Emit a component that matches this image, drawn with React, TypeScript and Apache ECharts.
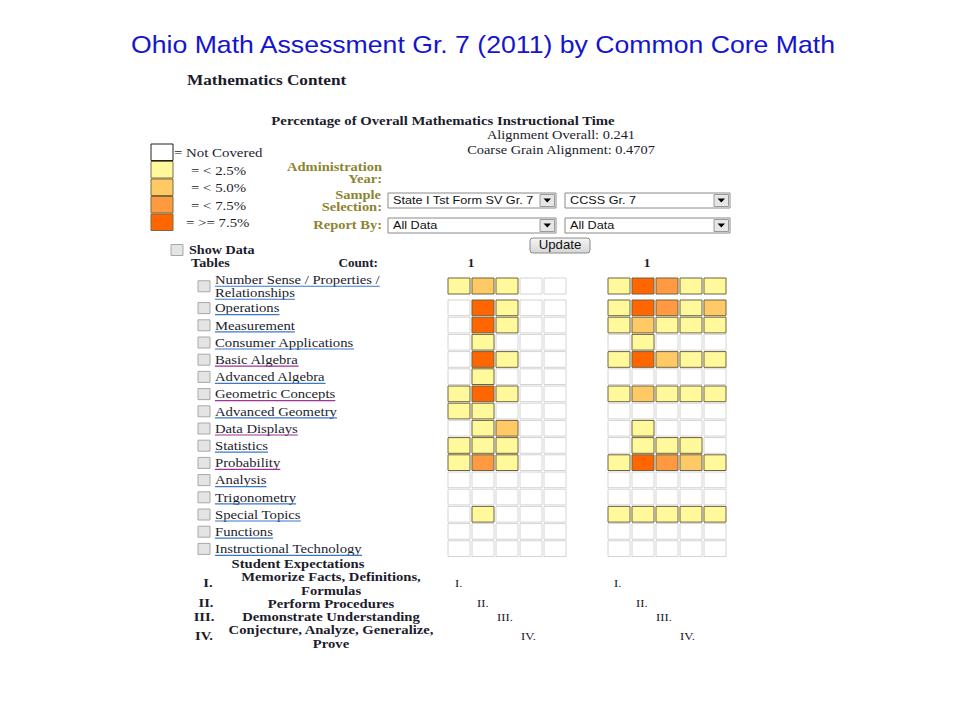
import React, { useEffect, useRef } from "react";
import * as echarts from "echarts";

// ---------- data ----------
const topics = [
  "Number Sense / Properties / Relationships",
  "Operations",
  "Measurement",
  "Consumer Applications",
  "Basic Algebra",
  "Advanced Algebra",
  "Geometric Concepts",
  "Advanced Geometry",
  "Data Displays",
  "Statistics",
  "Probability",
  "Analysis",
  "Trigonometry",
  "Special Topics",
  "Functions",
  "Instructional Technology",
];
const visitedTopics = ["Basic Algebra", "Geometric Concepts", "Data Displays", "Probability"];
const expectationCols = ["I", "II", "III", "IV", "V"];

// coverage level per topic (0 = not covered, 1 = <2.5%, 2 = <5.0%, 3 = <7.5%, 4 = >=7.5%)
const stateLevels = [
  [1, 2, 1, 0, 0],
  [0, 4, 1, 0, 0],
  [0, 4, 1, 0, 0],
  [0, 1, 0, 0, 0],
  [0, 4, 1, 0, 0],
  [0, 1, 0, 0, 0],
  [1, 4, 1, 0, 0],
  [1, 1, 0, 0, 0],
  [0, 1, 2, 0, 0],
  [1, 1, 1, 0, 0],
  [1, 3, 1, 0, 0],
  [0, 0, 0, 0, 0],
  [0, 0, 0, 0, 0],
  [0, 1, 0, 0, 0],
  [0, 0, 0, 0, 0],
  [0, 0, 0, 0, 0],
];
const ccssLevels = [
  [1, 4, 3, 1, 1],
  [1, 4, 3, 1, 2],
  [1, 2, 1, 1, 1],
  [0, 1, 0, 0, 0],
  [1, 4, 2, 1, 1],
  [0, 0, 0, 0, 0],
  [1, 2, 1, 1, 1],
  [0, 0, 0, 0, 0],
  [0, 1, 0, 0, 0],
  [0, 1, 1, 1, 0],
  [1, 4, 3, 2, 1],
  [0, 0, 0, 0, 0],
  [0, 0, 0, 0, 0],
  [1, 1, 1, 1, 1],
  [0, 0, 0, 0, 0],
  [0, 0, 0, 0, 0],
];
const legendLabels = ["= Not Covered", "= < 2.5%", "= < 5.0%", "= < 7.5%", "= >= 7.5%"];
const counts = ["1", "1"];
const romanLabels = ["I.", "II.", "III.", "IV."];
const expectationTexts = [
  ["Memorize Facts, Definitions,", "Formulas"],
  ["Perform Procedures"],
  ["Demonstrate Understanding"],
  ["Conjecture, Analyze, Generalize,", "Prove"],
];
const alignmentOverall = 0.241;
const coarseGrainAlignment = 0.4707;

// ---------- styles ----------
const levelColors = ["#ffffff", "#fff99c", "#ffc966", "#ff9a40", "#ff6600"];
const SERIF = '"Liberation Serif", "Times New Roman", serif';
const SANS = '"Liberation Sans", Arial, sans-serif';
const TEXT = "#1c1c2c";
const OLIVE = "#8c8530";

// grid layout
const G_TOP_A = 277.5;
const G_H_A = 17.5;
const G_TOP_B = 299.5;
const ROW_B = 17.2;
const G_H_B = ROW_B * 15;
const LEFT_X = 447;
const RIGHT_X = 607;
const G_W = 120;

function rowCenter(i: number) {
  return i === 0 ? G_TOP_A + G_H_A / 2 : G_TOP_B + (i - 0.5) * ROW_B;
}

function measure(text: string, font: string) {
  const c = document.createElement("canvas").getContext("2d");
  if (!c) return text.length * 6;
  c.font = font;
  return c.measureText(text).width;
}

function renderCell(params: any, api: any) {
  const lvl = api.value(2);
  const c = api.coord([api.value(0), api.value(1)]);
  const s = api.size([1, 1]);
  return {
    type: "rect",
    shape: { x: c[0] - s[0] / 2 + 1, y: c[1] - s[1] / 2 + 0.5, width: s[0] - 2, height: s[1] - 1.5 },
    style: { fill: levelColors[lvl], stroke: lvl ? "#6f6440" : "#d4d4d4", lineWidth: 1 },
  };
}

function txt(text: string, x: number, y: number, font: string, fill = TEXT, align = "left", sx = 1.15) {
  return {
    type: "text",
    x,
    y,
    scaleX: sx,
    silent: true,
    style: { text, font, fill, textAlign: align, textVerticalAlign: "middle" },
  };
}

function checkbox(x: number, y: number) {
  return { type: "rect", x, y: y - 5.5, shape: { width: 12, height: 11 }, style: { fill: "#e4e4e4", stroke: "#a8a8a8", lineWidth: 1 } };
}

function dropdown(x: number, y: number, w: number, label: string) {
  return [
    { type: "rect", shape: { x, y, width: w, height: 15 }, style: { fill: "#ffffff", stroke: "#8a8a8a", lineWidth: 1 } },
    txt(label, x + 5, y + 7.5, `11px ${SANS}`, "#111", "left", 1.15),
    { type: "rect", shape: { x: x + w - 16, y: y + 1.5, width: 14.5, height: 12 }, style: { fill: "#e6e6e6", stroke: "#9a9a9a", lineWidth: 1 } },
    { type: "polygon", shape: { points: [[x + w - 12.5, y + 5.5], [x + w - 5, y + 5.5], [x + w - 8.75, y + 9.5]] }, style: { fill: "#000" } },
  ];
}

export default function App() {
  const ref = useRef<HTMLDivElement>(null);
  useEffect(() => {
    if (!ref.current) return;
    const chart = echarts.init(ref.current, null, { renderer: "svg" });

    const grids: any[] = [];
    const xAxes: any[] = [];
    const yAxes: any[] = [];
    const series: any[] = [];
    [
      { left: LEFT_X, levels: stateLevels, name: "State I Tst Form SV Gr. 7" },
      { left: RIGHT_X, levels: ccssLevels, name: "CCSS Gr. 7" },
    ].forEach((side) => {
      [
        { top: G_TOP_A, height: G_H_A, rows: [0] },
        { top: G_TOP_B, height: G_H_B, rows: topics.slice(1).map((_, i) => i + 1) },
      ].forEach((part) => {
        const gi = grids.length;
        grids.push({ left: side.left, top: part.top, width: G_W, height: part.height });
        xAxes.push({ type: "category", gridIndex: gi, data: expectationCols, show: false });
        yAxes.push({ type: "category", gridIndex: gi, data: part.rows.map((r) => topics[r]), inverse: true, show: false });
        const data: number[][] = [];
        part.rows.forEach((r, ri) => side.levels[r].forEach((lvl, ci) => data.push([ci, ri, lvl])));
        series.push({
          type: "custom",
          name: side.name,
          xAxisIndex: gi,
          yAxisIndex: gi,
          renderItem: renderCell,
          encode: { x: 0, y: 1 },
          data,
        });
      });
    });

    const g: any[] = [];
    // title
    g.push(txt("Ohio Math Assessment Gr. 7 (2011) by Common Core Math", 483, 44, `24px ${SANS}`, "#1515cf", "center", 1.11));
    // headings
    g.push(txt("Mathematics Content", 187, 80, `bold 14px ${SERIF}`, TEXT, "left", 1.23));
    g.push(txt("Percentage of Overall Mathematics Instructional Time", 443, 121, `bold 12.5px ${SERIF}`, TEXT, "center", 1.18));
    g.push(txt(`Alignment Overall: ${alignmentOverall}`, 561, 135, `12.5px ${SERIF}`, TEXT, "center", 1.15));
    g.push(txt(`Coarse Grain Alignment: ${coarseGrainAlignment}`, 561, 150, `12.5px ${SERIF}`, TEXT, "center", 1.15));

    // legend
    const legendY = [144, 161.5, 179, 196.5, 214];
    const legendTx = [174, 191, 191, 191, 186];
    legendLabels.forEach((l, i) => {
      g.push({ type: "rect", shape: { x: 151, y: legendY[i], width: 22, height: 16.5 }, style: { fill: levelColors[i], stroke: i === 0 ? "#222" : "#7a6a40", lineWidth: 1 } });
      g.push(txt(l, legendTx[i], legendY[i] + 9, `12.5px ${SERIF}`, TEXT, "left", 1.19));
    });

    // form labels
    const ob = `bold 12.5px ${SERIF}`;
    g.push(txt("Administration", 382, 167, ob, OLIVE, "right", 1.16));
    g.push(txt("Year:", 382, 179, ob, OLIVE, "right", 1.16));
    g.push(txt("Sample", 381, 195, ob, OLIVE, "right", 1.16));
    g.push(txt("Selection:", 382, 207, ob, OLIVE, "right", 1.16));
    g.push(txt("Report By:", 382, 225, ob, OLIVE, "right", 1.16));
    g.push(...dropdown(388, 193, 168, "State I Tst Form SV Gr. 7"));
    g.push(...dropdown(565, 193, 165, "CCSS Gr. 7"));
    g.push(...dropdown(388, 218, 168, "All Data"));
    g.push(...dropdown(565, 218, 165, "All Data"));
    g.push({
      type: "rect",
      shape: { x: 530, y: 238, width: 60, height: 15, r: 3 },
      style: {
        fill: new echarts.graphic.LinearGradient(0, 0, 0, 1, [
          { offset: 0, color: "#f6f6f6" },
          { offset: 1, color: "#d6d6d6" },
        ]),
        stroke: "#8a8a8a",
        lineWidth: 1,
      },
    });
    g.push(txt("Update", 560, 245.5, `12px ${SANS}`, "#111", "center", 1.1));

    // show data tables / count
    g.push(checkbox(171, 250));
    g.push(txt("Show Data", 189, 250, `bold 12px ${SERIF}`, TEXT, "left", 1.18));
    g.push(txt("Tables", 191, 263, `bold 12px ${SERIF}`, TEXT, "left", 1.18));
    g.push(txt("Count:", 378, 263, `bold 12px ${SERIF}`, TEXT, "right", 1.1));
    g.push(txt(counts[0], LEFT_X + 24, 263, `bold 12px ${SERIF}`, TEXT, "center", 1.1));
    g.push(txt(counts[1], RIGHT_X + 40, 263, `bold 12px ${SERIF}`, TEXT, "center", 1.1));

    // topic labels
    const lf = `13px ${SERIF}`;
    const LSX = 1.13;
    topics.forEach((t, i) => {
      const yc = rowCenter(i);
      const lines = i === 0 ? ["Number Sense / Properties /", "Relationships"] : [t];
      const ulColor = visitedTopics.includes(t) ? "#a0309c" : "#3a78c8";
      g.push(checkbox(198, yc));
      lines.forEach((ln, li) => {
        const y = lines.length === 2 ? yc - 6.5 + li * 13 : yc;
        g.push(txt(ln, 215, y, lf, TEXT, "left", LSX));
        const w = measure(ln, lf) * LSX;
        g.push({ type: "line", shape: { x1: 215, y1: y + 6.5, x2: 215 + w, y2: y + 6.5 }, style: { stroke: ulColor, lineWidth: 1.2 } });
      });
    });

    // student expectations
    const bf = `bold 12px ${SERIF}`;
    const BSX = 1.22;
    g.push(txt("Student Expectations", 298, 564, bf, TEXT, "center", BSX));
    const romanX = [208, 206, 204, 204];
    const romanY = [583, 603, 617, 636];
    romanLabels.forEach((r, i) => g.push(txt(r, romanX[i], romanY[i], bf, TEXT, "center", BSX)));
    const descY = [[577, 590.5], [603.5], [617], [630, 643.5]];
    expectationTexts.forEach((lines, i) => lines.forEach((ln, li) => g.push(txt(ln, 331, descY[i][li], bf, TEXT, "center", BSX))));
    const stairX = [455, 477, 497, 521];
    romanLabels.forEach((r, i) => {
      g.push(txt(r, stairX[i], romanY[i], `11px ${SERIF}`, TEXT, "left", 1.15));
      g.push(txt(r, stairX[i] + 159, romanY[i], `11px ${SERIF}`, TEXT, "left", 1.15));
    });

    chart.setOption({
      animation: false,
      backgroundColor: "#ffffff",
      grid: grids,
      xAxis: xAxes,
      yAxis: yAxes,
      series,
      graphic: { elements: g },
    });
    return () => chart.dispose();
  }, []);
  return <div ref={ref} style={{ position: "absolute", left: 0, top: 0, width: 960, height: 720 }} />;
}
